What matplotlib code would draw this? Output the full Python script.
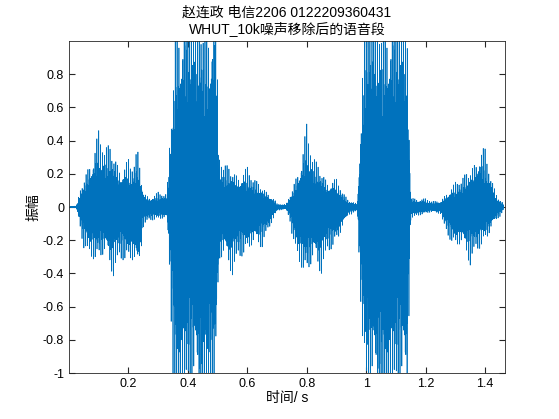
import numpy as np
import matplotlib
matplotlib.use("Agg")
import matplotlib.pyplot as plt

plt.rcParams['font.family'] = ['Liberation Sans', 'Noto Sans CJK SC', 'DejaVu Sans']

# envelope keypoints (time s, positive peak, negative peak)
env_t = [0.0, 0.025, 0.04, 0.07, 0.10, 0.14, 0.18, 0.21, 0.23, 0.25, 0.27, 0.33, 0.345,
         0.36, 0.44, 0.49, 0.505, 0.56, 0.62, 0.67, 0.70, 0.73, 0.745, 0.77, 0.80,
         0.83, 0.87, 0.91, 0.94, 0.97, 0.985, 1.00, 1.10, 1.135, 1.15, 1.20, 1.25,
         1.27, 1.30, 1.35, 1.38, 1.41, 1.44, 1.467]
env_pos = [0.0, 0.01, 0.15, 0.38, 0.46, 0.47, 0.30, 0.28, 0.45, 0.12, 0.08, 0.10, 0.8,
           1.6, 1.6, 1.6, 0.35, 0.28, 0.22, 0.12, 0.02, 0.02, 0.10, 0.30, 0.50,
           0.35, 0.22, 0.15, 0.05, 0.03, 0.9, 1.6, 1.6, 1.6, 0.08, 0.05, 0.04,
           0.12, 0.15, 0.30, 0.45, 0.30, 0.08, 0.02]
env_neg = [0.0, 0.01, 0.18, 0.38, 0.42, 0.42, 0.40, 0.45, 0.55, 0.12, 0.10, 0.10, 0.8,
           1.6, 1.6, 1.6, 0.45, 0.40, 0.33, 0.18, 0.03, 0.02, 0.10, 0.40, 0.55,
           0.45, 0.35, 0.25, 0.05, 0.03, 0.9, 1.6, 1.6, 1.6, 0.08, 0.05, 0.04,
           0.20, 0.32, 0.35, 0.32, 0.25, 0.08, 0.02]

fs = 10000
t = np.arange(0, 1.462, 1 / fs)
pos = np.interp(t, env_t, env_pos)
neg = np.interp(t, env_t, env_neg)

# voiced-like carrier: pitch pulses on top of a dense oscillation
f0 = 160.0
frac = (t * f0) % 1.0
pulse = np.exp(-4.0 * frac)
carrier = (0.45 + 0.55 * pulse) * (0.6 * np.cos(2 * np.pi * 1130 * t) + 0.4 * np.cos(2 * np.pi * 470 * t))
y = np.where(carrier > 0, carrier * pos, carrier * neg)
y = np.clip(y, -1.3, 1.3)

fig = plt.figure(figsize=(5.59, 4.19), dpi=100)
ax = fig.add_axes([69 / 559, 1 - 373 / 419, 436 / 559, 332 / 419])
ax.plot(t, y, color='#0072BD', linewidth=0.5)
ax.set_xlim(0, 1.467)
ax.set_ylim(-1, 1)
ax.set_xticks([0.2, 0.4, 0.6, 0.8, 1.0, 1.2, 1.4])
ax.set_xticklabels(['0.2', '0.4', '0.6', '0.8', '1', '1.2', '1.4'])
ax.set_yticks(np.round(np.arange(-1, 0.81, 0.2), 1))
ax.set_yticklabels(['-1', '-0.8', '-0.6', '-0.4', '-0.2', '0', '0.2', '0.4', '0.6', '0.8'])
ax.tick_params(direction='in', top=True, right=True, labelsize=9, length=4, color='#262626')
for s in ax.spines.values():
    s.set_color('#262626')
    s.set_linewidth(0.6)
ax.set_title('赵连政 电信2206 0122209360431\nWHUT_10k噪声移除后的语音段', fontsize=10, linespacing=1.1)
ax.set_xlabel('时间/ s', fontsize=10, labelpad=1)
ax.set_ylabel('振幅', fontsize=10, labelpad=2)
fig.savefig('out.png', dpi=100)
